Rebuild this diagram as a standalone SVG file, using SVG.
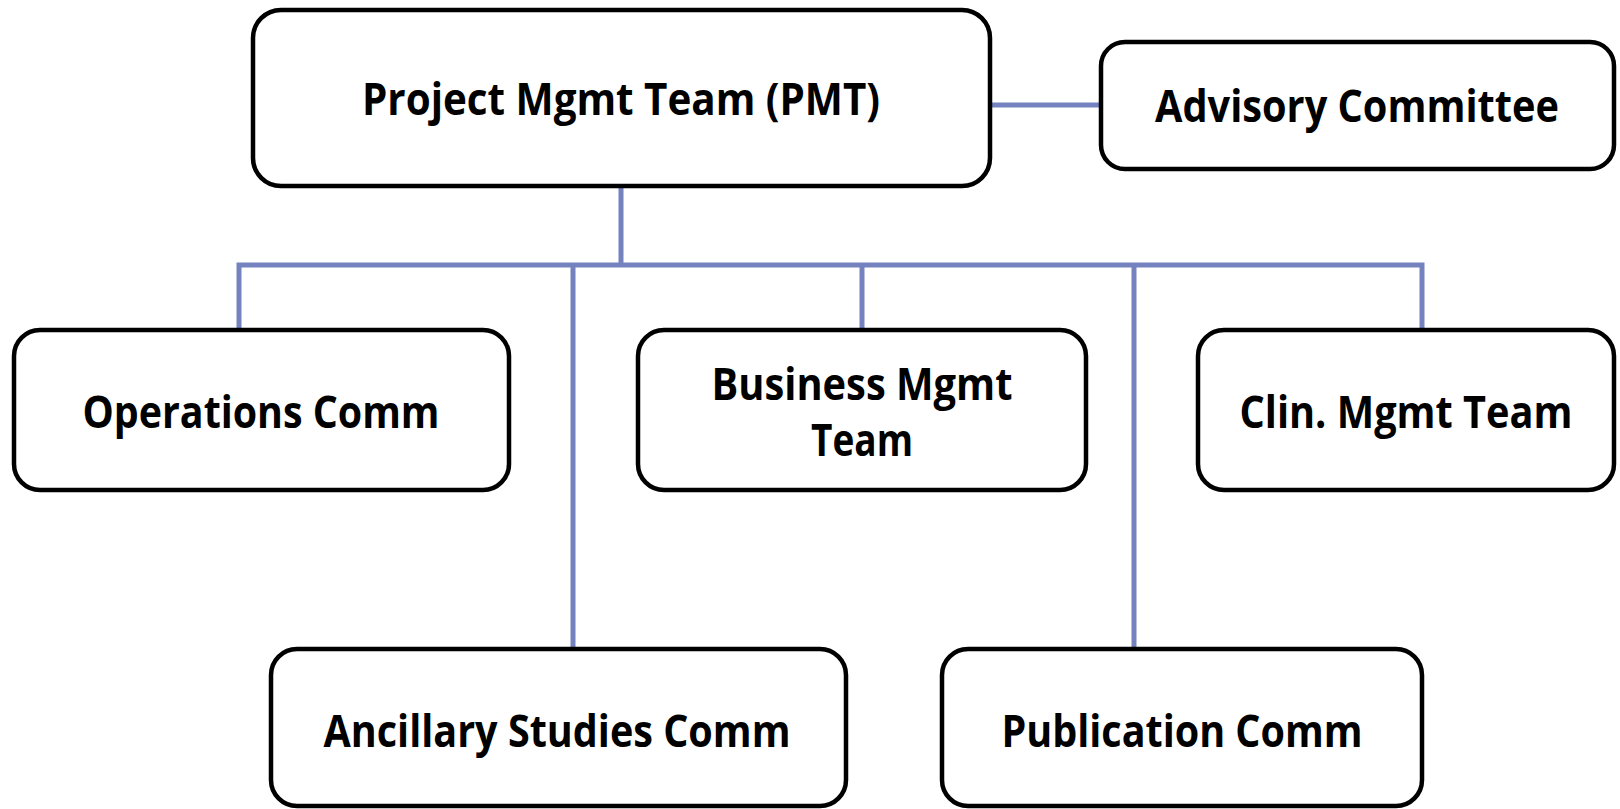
<svg xmlns="http://www.w3.org/2000/svg" width="1620" height="809" viewBox="0 0 1620 809">
<style>
.box{fill:#fff;stroke:#000;stroke-width:4.5}
.lbl{font-family:"Open Sans","Liberation Sans",sans-serif;font-weight:bold;font-size:45px;fill:#000;text-anchor:middle}
.con{stroke:#7483c0;stroke-width:5;fill:none}
</style>
<rect width="1620" height="809" fill="#fff"/>
<g id="connectors">
<line class="con" x1="990" y1="105" x2="1101" y2="105"/>
<line class="con" x1="621" y1="186" x2="621" y2="265"/>
<polyline class="con" points="239,330 239,265 1422,265 1422,330"/>
<line class="con" x1="862" y1="265" x2="862" y2="330"/>
<line class="con" x1="573" y1="265" x2="573" y2="649"/>
<line class="con" x1="1134" y1="265" x2="1134" y2="649"/>
</g>
<g id="pmt">
<rect class="box" x="253" y="10" width="737" height="176" rx="28"/>
<text class="lbl" x="621" y="115" textLength="518" lengthAdjust="spacingAndGlyphs">Project Mgmt Team (PMT)</text>
</g>
<g id="advisory">
<rect class="box" x="1101" y="42" width="513" height="127" rx="24"/>
<text class="lbl" x="1357" y="122" textLength="404" lengthAdjust="spacingAndGlyphs">Advisory Committee</text>
</g>
<g id="operations">
<rect class="box" x="14" y="330" width="495" height="160" rx="26"/>
<text class="lbl" x="261" y="428" textLength="357" lengthAdjust="spacingAndGlyphs">Operations Comm</text>
</g>
<g id="business">
<rect class="box" x="638" y="330" width="448" height="160" rx="26"/>
<text class="lbl" x="862" y="400" textLength="301" lengthAdjust="spacingAndGlyphs">Business Mgmt</text>
<text class="lbl" x="862" y="456" textLength="102" lengthAdjust="spacingAndGlyphs">Team</text>
</g>
<g id="clin">
<rect class="box" x="1198" y="330" width="416" height="160" rx="26"/>
<text class="lbl" x="1406" y="428" textLength="333" lengthAdjust="spacingAndGlyphs">Clin. Mgmt Team</text>
</g>
<g id="ancillary">
<rect class="box" x="271" y="649" width="575" height="157" rx="26"/>
<text class="lbl" x="557" y="747" textLength="467" lengthAdjust="spacingAndGlyphs">Ancillary Studies Comm</text>
</g>
<g id="publication">
<rect class="box" x="942" y="649" width="480" height="157" rx="26"/>
<text class="lbl" x="1182" y="747" textLength="361" lengthAdjust="spacingAndGlyphs">Publication Comm</text>
</g>
</svg>
